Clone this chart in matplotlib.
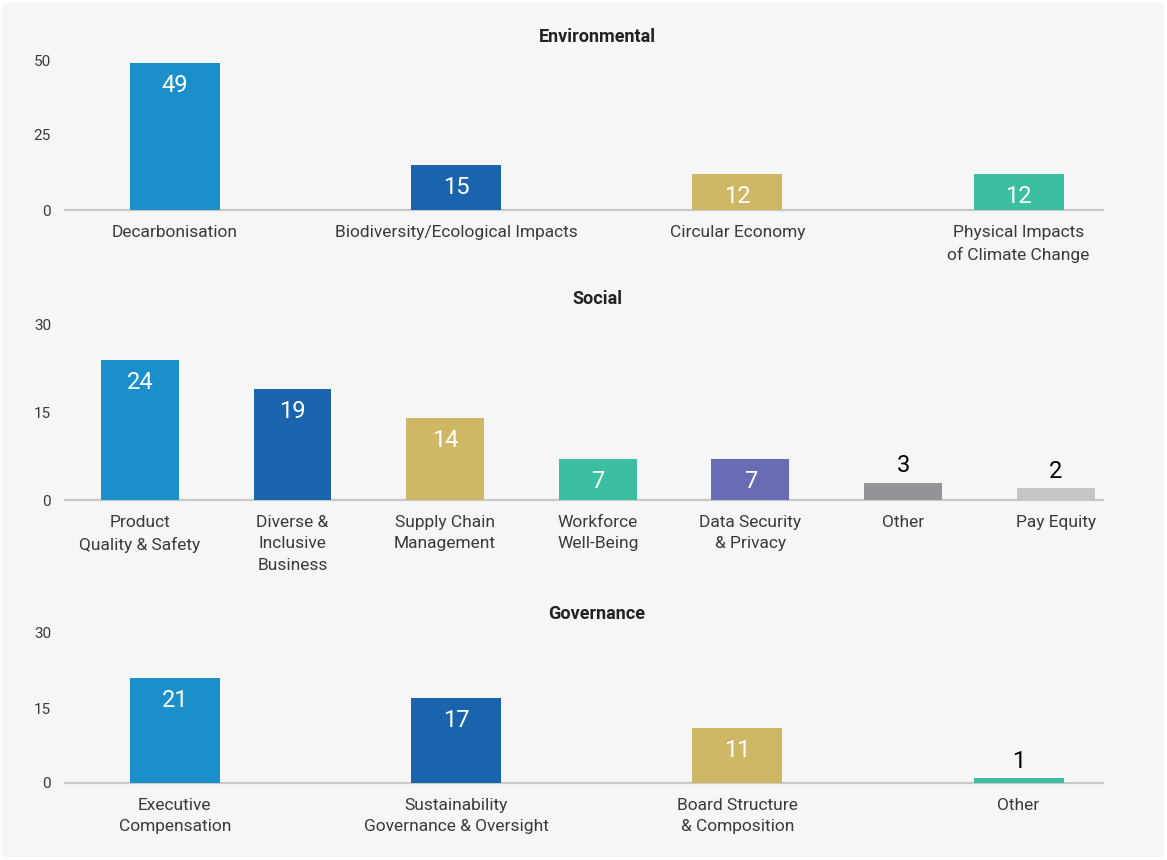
import matplotlib
matplotlib.use("Agg")
import matplotlib.pyplot as plt
from matplotlib.patches import Rectangle

plt.rcParams["font.family"] = ["Roboto", "DejaVu Sans"]

# ---- data ------------------------------------------------------------------
env_labels = ["Decarbonisation", "Biodiversity/Ecological Impacts",
              "Circular Economy", "Physical Impacts\nof Climate Change"]
env_values = [49, 15, 12, 12]

soc_labels = ["Product\nQuality & Safety", "Diverse &\nInclusive\nBusiness",
              "Supply Chain\nManagement", "Workforce\nWell-Being",
              "Data Security\n& Privacy", "Other", "Pay Equity"]
soc_values = [24, 19, 14, 7, 7, 3, 2]

gov_labels = ["Executive\nCompensation", "Sustainability\nGovernance & Oversight",
              "Board Structure\n& Composition", "Other"]
gov_values = [21, 17, 11, 1]

# ---- palette ---------------------------------------------------------------
BLUE = "#1b8fca"
DBLUE = "#1a64ae"
TAN = "#cfb865"
TEAL = "#3cbfa0"
PURPLE = "#6a6bb5"
GREY = "#939497"
LGREY = "#c6c6c8"
PANEL = "#f6f6f6"
AXIS = "#c9c9c9"
TXT = "#3a3a3a"

env_colors = [BLUE, DBLUE, TAN, TEAL]
soc_colors = [BLUE, DBLUE, TAN, TEAL, PURPLE, GREY, LGREY]
gov_colors = [BLUE, DBLUE, TAN, TEAL]

W, H = 1167, 860
fig = plt.figure(figsize=(W / 100, H / 100), dpi=100, facecolor="white")
fig.patches.append(Rectangle((2 / W, 3 / H), (W - 5) / W, (H - 6) / H,
                             transform=fig.transFigure, facecolor=PANEL,
                             edgecolor="none", zorder=-5))


def panel(title, labels, values, colors, y0, y1, ymax, ticks, width,
          xlo, xhi, title_y):
    # y0 = pixel row of zero line, y1 = pixel row of ymax
    x0, x1 = 65, 1103
    ax = fig.add_axes([x0 / W, 1 - y0 / H, (x1 - x0) / W, (y0 - y1) / H])
    ax.set_facecolor("none")
    xs = list(range(len(values)))
    ax.bar(xs, values, width=width, color=colors, zorder=2)
    ax.set_xlim(xlo, xhi)
    ax.set_ylim(0, ymax)
    for s in ["top", "right", "left"]:
        ax.spines[s].set_visible(False)
    ax.spines["bottom"].set_color(AXIS)
    ax.spines["bottom"].set_linewidth(1.6)
    ax.spines["bottom"].set_zorder(1)
    ax.set_yticks(ticks)
    ax.set_yticklabels([str(t) for t in ticks], fontsize=11, color=TXT)
    ax.set_xticks([])
    ax.tick_params(axis="both", length=0)
    ax.tick_params(axis="y", pad=10)
    # category labels drawn by hand so the line spacing sticks
    for x, lab in zip(xs, labels):
        ax.annotate(lab, (x, 0), xytext=(0, -10.5), textcoords="offset points",
                    ha="center", va="top", fontsize=12.5, color=TXT,
                    linespacing=1.55, annotation_clip=False)
    for x, v in zip(xs, values):
        if v >= 5:
            ax.annotate(str(v), (x, v), xytext=(0, -16), textcoords="offset points",
                        ha="center", va="center", fontsize=17, color="white")
        else:
            ax.annotate(str(v), (x, v), xytext=(0, 12), textcoords="offset points",
                        ha="center", va="center", fontsize=17, color="black")
    fig.text(597 / W, 1 - title_y / H, title, ha="center", va="center",
             fontsize=13, fontweight="bold", color="#222222")
    return ax


panel("Environmental", env_labels, env_values, env_colors,
      210, 60, 50, [0, 25, 50], 0.32, -0.39, 3.30, 37)
panel("Social", soc_labels, soc_values, soc_colors,
      500, 325, 30, [0, 15, 30], 0.51, -0.49, 6.31, 299)
panel("Governance", gov_labels, gov_values, gov_colors,
      783, 633, 30, [0, 15, 30], 0.32, -0.39, 3.30, 614)

fig.savefig("out.png", dpi=100, facecolor="white")
